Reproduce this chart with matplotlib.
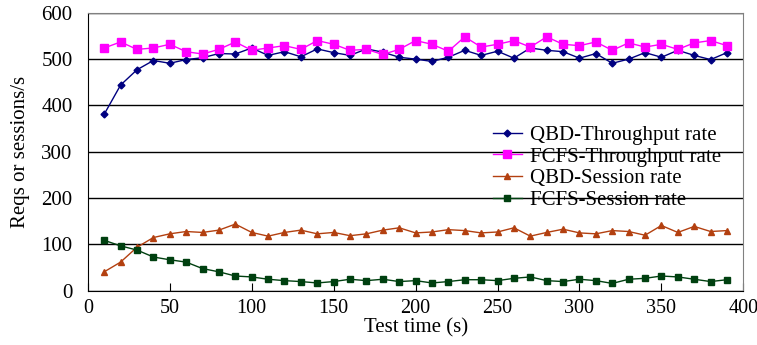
import numpy as np
import matplotlib
matplotlib.use("Agg")
import matplotlib.pyplot as plt

plt.rcParams['font.family'] = ['Liberation Serif', 'DejaVu Serif']

test_time = np.arange(10, 400, 10)

qbd_throughput = [381, 444, 477, 497, 491, 499, 503, 512, 511, 524,
                  508, 516, 505, 522, 514, 508, 522, 515, 504, 500,
                  495, 504, 519, 508, 517, 502, 524, 519, 516, 502,
                  512, 491, 500, 514, 504, 519, 508, 499, 514]
fcfs_throughput = [524, 537, 521, 524, 532, 516, 511, 521, 537, 519,
                   524, 529, 521, 540, 532, 519, 521, 510, 521, 540,
                   532, 517, 548, 526, 532, 540, 526, 548, 532, 529,
                   537, 519, 535, 526, 532, 521, 535, 540, 529]
qbd_session = [41, 62, 94, 115, 123, 128, 126, 131, 144, 126,
               118, 126, 131, 123, 126, 119, 123, 131, 136, 125,
               127, 132, 130, 125, 127, 136, 118, 126, 133, 125,
               123, 130, 128, 120, 141, 126, 139, 128, 130]
fcfs_session = [109, 97, 88, 73, 67, 62, 48, 41, 32, 30,
                25, 22, 20, 17, 20, 25, 22, 25, 20, 22,
                17, 20, 24, 24, 22, 27, 30, 22, 20, 25,
                22, 16, 25, 27, 32, 30, 25, 20, 24]

fig = plt.figure(figsize=(7.57, 3.45), dpi=100)
ax = fig.add_axes([0.116, 0.157, 0.866, 0.806])

ax.plot(test_time, qbd_throughput, color='#000080', lw=1, marker='D', ms=3.5,
        label='QBD-Throughput rate')
ax.plot(test_time, fcfs_throughput, color='#FF00FF', lw=1, marker='s', ms=6,
        label='FCFS-Throughput rate')
ax.plot(test_time, qbd_session, color='#B34010', lw=1, marker='^', ms=5,
        label='QBD-Session rate')
ax.plot(test_time, fcfs_session, color='#004010', lw=1, marker='s', ms=5,
        label='FCFS-Session rate')

ax.set_xlim(0, 400)
ax.set_ylim(0, 600)
ax.set_xticks(range(0, 401, 50))
ax.set_yticks(range(0, 601, 100))
ax.yaxis.grid(True, color='black', lw=1)
ax.set_axisbelow(True)
ax.tick_params(axis='x', direction='in', length=6, pad=6, labelsize=14.5)
ax.tick_params(axis='y', length=0, pad=11, labelsize=15)
ax.spines['top'].set_color('#808080')
ax.spines['right'].set_color('#808080')

ax.set_xlabel('Test time (s)', fontsize=15, labelpad=0)
ax.set_ylabel('Reqs or sessions/s', fontsize=15, labelpad=8)

leg = ax.legend(loc='upper left', bbox_to_anchor=(0.605, 0.625), frameon=False,
                fontsize=15, handlelength=1.4, handletextpad=0.4,
                labelspacing=0.1, borderaxespad=0)

fig.savefig('out.png', dpi=100)
